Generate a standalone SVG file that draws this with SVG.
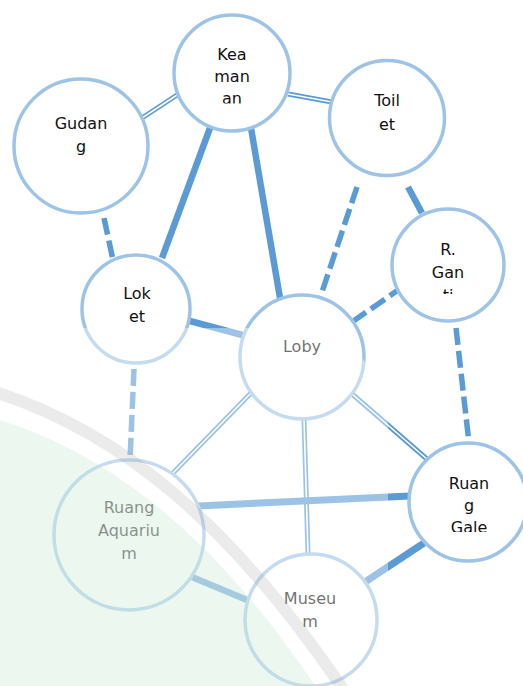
<svg xmlns="http://www.w3.org/2000/svg" width="523" height="686" viewBox="0 0 523 686">
<style>
.node circle{fill:#fff;stroke:#9dc3e6;stroke-width:3.5}
.node text{font-family:"DejaVu Sans","Liberation Sans",sans-serif;font-size:16px;fill:#111;text-anchor:middle}
.e{stroke:#5b9bd5;fill:none}
.solid{stroke-width:6.5}
.dash{stroke-width:5.5;stroke-dasharray:17 6}
.dbl{stroke-width:5}
.dblin{stroke:#fff;stroke-width:1.6;fill:none}
</style>
<defs>
<clipPath id="ckea"><rect x="170" y="10" width="130" height="93.5"/></clipPath>
<clipPath id="cgan"><rect x="390" y="205" width="120" height="89"/></clipPath>
<clipPath id="cgal"><rect x="405" y="440" width="125" height="92"/></clipPath>
</defs>
<rect width="523" height="686" fill="#fff"/>
<g id="connectors">
<line class="e dbl" x1="142" y1="118" x2="177" y2="95"/><line class="dblin" x1="142" y1="118" x2="177" y2="95"/>
<line class="e dbl" x1="288" y1="94" x2="332" y2="102"/><line class="dblin" x1="288" y1="94" x2="332" y2="102"/>
<line class="e solid" x1="210" y1="128" x2="162" y2="258"/>
<line class="e solid" x1="251" y1="128" x2="280" y2="298"/>
<line class="e dash" x1="104" y1="218" x2="113" y2="260"/>
<line class="e dash" x1="357" y1="187" x2="320" y2="298"/>
<line class="e solid" x1="408" y1="187" x2="422" y2="213"/>
<line class="e dash" x1="352" y1="322" x2="401" y2="288"/>
<line class="e dash" x1="456" y1="328" x2="469" y2="443"/>
<line class="e solid" x1="190" y1="321" x2="246" y2="336"/>
<line class="e dash" x1="134" y1="369" x2="130" y2="460"/>
<line class="e dbl" x1="252" y1="392" x2="172" y2="474"/><line class="dblin" x1="252" y1="392" x2="172" y2="474"/>
<line class="e dbl" x1="304" y1="419" x2="308" y2="553"/><line class="dblin" x1="304" y1="419" x2="308" y2="553"/>
<line class="e dbl" x1="351" y1="393" x2="428" y2="460"/><line class="dblin" x1="351" y1="393" x2="428" y2="460"/>
<line class="e solid" x1="198" y1="506" x2="410" y2="496" style="stroke-width:7"/>
<line class="e solid" x1="192" y1="577" x2="247" y2="600"/>
<line class="e solid" x1="365" y1="582" x2="424" y2="543" style="stroke-width:7"/>
</g>
<g id="keamanan" class="node"><circle cx="232" cy="73" r="58"/><g clip-path="url(#ckea)"><text x="232" y="60">Kea</text><text x="232" y="82">man</text><text x="232" y="104">an</text></g></g>
<g id="gudang" class="node"><circle cx="81" cy="146" r="67"/><text x="81" y="129">Gudan</text><text x="81" y="152">g</text></g>
<g id="toilet" class="node"><circle cx="387" cy="118" r="57.5"/><text x="387" y="106">Toil</text><text x="387" y="130">et</text></g>
<g id="rganti" class="node"><circle cx="448" cy="265" r="56"/><g clip-path="url(#cgan)"><text x="448" y="255">R.</text><text x="448" y="278">Gan</text><text x="448" y="301">ti</text></g></g>
<g id="loket" class="node"><circle cx="136" cy="309" r="54"/><text x="137" y="299">Lok</text><text x="137" y="322">et</text></g>
<g id="loby" class="node"><circle cx="302" cy="357" r="62"/><text x="302" y="352">Loby</text></g>
<g id="aquarium" class="node"><circle cx="129" cy="535" r="75"/><text x="129" y="513">Ruang</text><text x="129" y="536">Aquariu</text><text x="129" y="559">m</text></g>
<g id="museum" class="node"><circle cx="311" cy="620" r="66"/><text x="310" y="604">Museu</text><text x="310" y="627">m</text></g>
<g id="galeri" class="node"><circle cx="468" cy="502" r="59"/><g clip-path="url(#cgal)"><text x="469" y="489">Ruan</text><text x="469" y="511">g</text><text x="469" y="533">Gale</text></g></g>
<g id="watermark">
<path d="M0 328 H292 A96 96 0 0 1 388 424 V686 H0 Z" fill="#fff" fill-opacity="0.4"/>
<path d="M0 420 C110 455 215 535 318 690 L0 690 Z" fill="#b9e1ca" fill-opacity="0.28"/>
<path d="M-5 392 C120 432 230 522 345 692" fill="none" stroke="#9b9b9b" stroke-opacity="0.2" stroke-width="12"/>
</g>
</svg>
